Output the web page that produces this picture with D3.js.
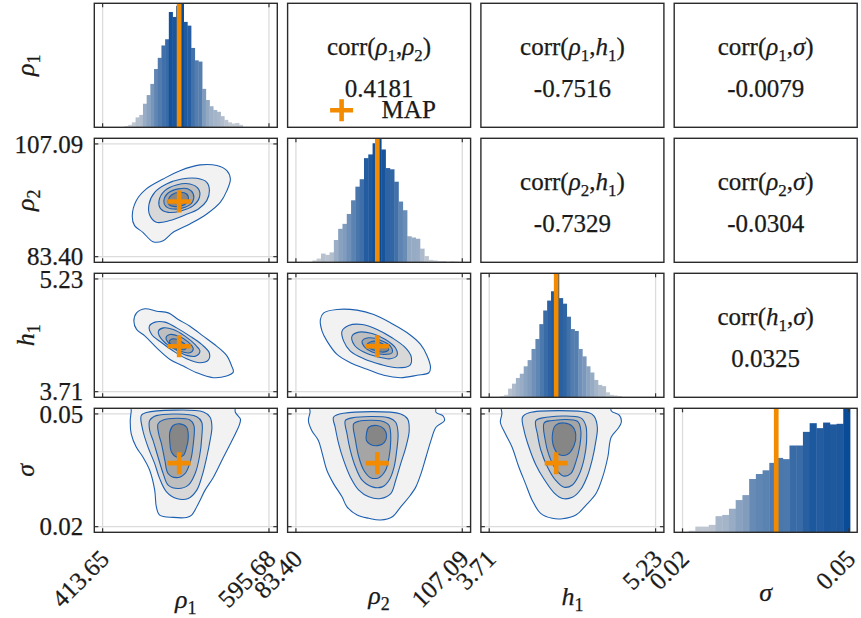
<!DOCTYPE html>
<html>
<head>
<meta charset="utf-8">
<script src="https://cdn.jsdelivr.net/npm/d3@7"></script>
<style>
  body { margin: 0; background: #fff; }
  text { fill: #1a1a1a; stroke: #1a1a1a; stroke-width: 0.25px; }
</style>
</head>
<body>
<div id="chart"></div>
<script>
// parameters: symbol, subscript, plotted bounds and MAP estimate
const paramNames = ['ρ', 'ρ', 'h', 'σ'];
const paramSubs = ['1', '2', '1', ''];
const paramLo = [413.65, 83.40, 3.71, 0.02];
const paramHi = [595.68, 107.09, 5.23, 0.05];
const mapValues = [497.4, 94.99, 4.322, 0.0369];

// marginal histograms: bin range and relative bar heights
const histRange = [[437.6, 566.9], [85.74, 106.57], [3.811, 4.917], [0.0211, 0.0502]];
const histRho1 = [0.01, 0.02, 0.04, 0.08, 0.10, 0.19, 0.26, 0.35, 0.47, 0.56, 0.66, 0.71, 0.93, 0.89, 0.98, 1.0,
  0.85, 0.82, 0.64, 0.54, 0.53, 0.31, 0.22, 0.17, 0.14, 0.125, 0.09, 0.06, 0.04, 0.03, 0.035, 0.02];
const histRho2 = [0.015, 0.03, 0.07, 0.06, 0.08, 0.18, 0.27, 0.31, 0.39, 0.50, 0.61, 0.67, 0.84, 0.87, 0.96, 1.0,
  0.91, 0.76, 0.75, 0.65, 0.49, 0.42, 0.21, 0.20, 0.19, 0.11, 0.05, 0.02, 0.015, 0.01, 0.01, 0.005, 0.008, 0.005];
const histH1 = [0.01, 0.02, 0.07, 0.11, 0.156, 0.19, 0.25, 0.30, 0.39, 0.47, 0.59, 0.70, 0.78, 0.855, 1.0, 0.80,
  0.755, 0.65, 0.55, 0.535, 0.39, 0.33, 0.25, 0.20, 0.14, 0.10, 0.09, 0.04, 0.02, 0.015, 0.01];
const histSigma = [0.013, 0.046, 0.046, 0.06, 0.13, 0.14, 0.19, 0.26, 0.30, 0.43, 0.47, 0.50, 0.56, 0.60, 0.59,
  0.70, 0.70, 0.81, 0.88, 0.84, 0.885, 0.87, 0.875, 1.0];
const histHeights = [histRho1, histRho2, histH1, histSigma];

// pairwise correlations [row param, col param, value]
const corrValues = [[0, 1, 0.4181], [0, 2, -0.7516], [0, 3, -0.0079], [1, 2, -0.7329], [1, 3, -0.0304], [2, 3, 0.0325]];

// 2D density contours, outer to inner, as [x, y] fractions of each parameter's bounds
const contours = {
  '1,0': [
    [[0.178, 0.358], [0.202, 0.497], [0.263, 0.601], [0.364, 0.689], [0.465, 0.763], [0.586, 0.814], [0.687, 0.808], [0.747, 0.763], [0.768, 0.689], [0.747, 0.586], [0.707, 0.482], [0.626, 0.379], [0.525, 0.290], [0.424, 0.216], [0.364, 0.142], [0.303, 0.133], [0.242, 0.216], [0.192, 0.275]],
    [[0.279, 0.467], [0.313, 0.571], [0.384, 0.645], [0.475, 0.689], [0.566, 0.695], [0.626, 0.660], [0.642, 0.586], [0.626, 0.497], [0.576, 0.423], [0.495, 0.370], [0.404, 0.320], [0.323, 0.305], [0.283, 0.370]],
    [[0.339, 0.497], [0.374, 0.586], [0.444, 0.636], [0.525, 0.645], [0.576, 0.601], [0.582, 0.527], [0.545, 0.453], [0.475, 0.408], [0.394, 0.393], [0.347, 0.429]],
    [[0.368, 0.497], [0.394, 0.565], [0.455, 0.601], [0.515, 0.601], [0.545, 0.556], [0.541, 0.488], [0.495, 0.438], [0.424, 0.423], [0.380, 0.447]],
    [[0.394, 0.497], [0.414, 0.547], [0.465, 0.571], [0.505, 0.556], [0.515, 0.506], [0.489, 0.459], [0.434, 0.444], [0.400, 0.459]]
  ],
  '2,0': [
    [[0.188, 0.625], [0.204, 0.699], [0.255, 0.735], [0.325, 0.714], [0.395, 0.699], [0.455, 0.640], [0.525, 0.581], [0.605, 0.493], [0.685, 0.404], [0.745, 0.322], [0.776, 0.227], [0.786, 0.174], [0.745, 0.139], [0.665, 0.124], [0.565, 0.168], [0.485, 0.227], [0.405, 0.286], [0.325, 0.389], [0.255, 0.493], [0.204, 0.552]],
    [[0.281, 0.581], [0.315, 0.617], [0.375, 0.617], [0.445, 0.566], [0.525, 0.493], [0.595, 0.419], [0.641, 0.345], [0.635, 0.280], [0.585, 0.257], [0.505, 0.292], [0.425, 0.360], [0.355, 0.434], [0.295, 0.507]],
    [[0.335, 0.537], [0.365, 0.566], [0.425, 0.552], [0.495, 0.493], [0.555, 0.419], [0.585, 0.360], [0.561, 0.316], [0.505, 0.322], [0.435, 0.375], [0.375, 0.434], [0.341, 0.493]],
    [[0.381, 0.478], [0.405, 0.507], [0.455, 0.493], [0.515, 0.440], [0.545, 0.381], [0.525, 0.345], [0.465, 0.360], [0.415, 0.404]],
    [[0.401, 0.448], [0.425, 0.469], [0.469, 0.448], [0.505, 0.404], [0.495, 0.375], [0.449, 0.383], [0.415, 0.410]]
  ],
  '2,1': [
    [[0.147, 0.640], [0.167, 0.699], [0.247, 0.729], [0.367, 0.723], [0.468, 0.684], [0.568, 0.611], [0.669, 0.522], [0.749, 0.419], [0.789, 0.316], [0.809, 0.212], [0.799, 0.168], [0.729, 0.145], [0.629, 0.124], [0.528, 0.145], [0.428, 0.198], [0.327, 0.257], [0.247, 0.330], [0.187, 0.448], [0.157, 0.537]],
    [[0.277, 0.537], [0.317, 0.587], [0.398, 0.596], [0.488, 0.552], [0.578, 0.478], [0.659, 0.389], [0.693, 0.310], [0.685, 0.233], [0.608, 0.212], [0.508, 0.242], [0.408, 0.292], [0.327, 0.360], [0.287, 0.448]],
    [[0.337, 0.493], [0.378, 0.528], [0.458, 0.516], [0.538, 0.463], [0.598, 0.389], [0.608, 0.322], [0.568, 0.292], [0.488, 0.310], [0.408, 0.351], [0.353, 0.410]],
    [[0.398, 0.448], [0.438, 0.478], [0.508, 0.457], [0.568, 0.404], [0.578, 0.345], [0.528, 0.330], [0.458, 0.351], [0.412, 0.398]],
    [[0.428, 0.419], [0.468, 0.448], [0.528, 0.419], [0.558, 0.375], [0.528, 0.351], [0.468, 0.369], [0.438, 0.389]]
  ],
  '3,0': [
    [[0.172, 1.029], [0.166, 0.941], [0.172, 0.824], [0.202, 0.706], [0.242, 0.618], [0.283, 0.500], [0.313, 0.324], [0.323, 0.176], [0.343, 0.103], [0.424, 0.082], [0.505, 0.082], [0.535, 0.103], [0.576, 0.206], [0.616, 0.324], [0.667, 0.441], [0.727, 0.618], [0.768, 0.735], [0.798, 0.824], [0.824, 0.912], [0.828, 0.956], [0.798, 1.015], [0.79, 1.12], [0.17, 1.12]],
    [[0.232, 0.985], [0.263, 1.012], [0.606, 1.018], [0.646, 0.971], [0.657, 0.882], [0.646, 0.765], [0.626, 0.618], [0.596, 0.441], [0.566, 0.324], [0.515, 0.250], [0.444, 0.250], [0.384, 0.309], [0.343, 0.426], [0.313, 0.559], [0.273, 0.706], [0.242, 0.853]],
    [[0.283, 0.941], [0.323, 0.985], [0.566, 0.976], [0.596, 0.926], [0.596, 0.794], [0.582, 0.618], [0.556, 0.471], [0.515, 0.368], [0.455, 0.338], [0.394, 0.368], [0.364, 0.471], [0.333, 0.618], [0.303, 0.765], [0.283, 0.853]],
    [[0.333, 0.912], [0.364, 0.947], [0.525, 0.947], [0.549, 0.897], [0.545, 0.735], [0.529, 0.588], [0.495, 0.471], [0.444, 0.435], [0.394, 0.471], [0.374, 0.588], [0.354, 0.735], [0.337, 0.824]],
    [[0.404, 0.838], [0.424, 0.897], [0.465, 0.912], [0.505, 0.882], [0.515, 0.794], [0.505, 0.706], [0.485, 0.632], [0.444, 0.618], [0.414, 0.662], [0.404, 0.750]]
  ],
  '3,1': [
    [[0.085, 1.015], [0.075, 0.941], [0.095, 0.853], [0.135, 0.765], [0.156, 0.662], [0.186, 0.500], [0.226, 0.382], [0.277, 0.265], [0.307, 0.176], [0.368, 0.103], [0.438, 0.074], [0.509, 0.059], [0.580, 0.088], [0.630, 0.176], [0.681, 0.265], [0.721, 0.353], [0.752, 0.471], [0.782, 0.618], [0.812, 0.765], [0.842, 0.882], [0.893, 0.941], [0.883, 0.985], [0.842, 1.015], [0.84, 1.12], [0.085, 1.12]],
    [[0.226, 0.971], [0.236, 0.882], [0.257, 0.735], [0.287, 0.588], [0.327, 0.441], [0.378, 0.324], [0.438, 0.265], [0.509, 0.250], [0.570, 0.294], [0.600, 0.412], [0.630, 0.559], [0.661, 0.706], [0.681, 0.853], [0.671, 0.956], [0.630, 1.000], [0.287, 1.006]],
    [[0.297, 0.941], [0.307, 0.824], [0.327, 0.676], [0.358, 0.529], [0.398, 0.412], [0.459, 0.353], [0.519, 0.353], [0.560, 0.412], [0.590, 0.529], [0.606, 0.676], [0.614, 0.824], [0.600, 0.926], [0.560, 0.965], [0.337, 0.965]],
    [[0.347, 0.912], [0.358, 0.765], [0.378, 0.618], [0.408, 0.500], [0.448, 0.435], [0.499, 0.435], [0.539, 0.500], [0.560, 0.618], [0.570, 0.765], [0.560, 0.897], [0.519, 0.935], [0.378, 0.935]],
    [[0.424, 0.824], [0.438, 0.882], [0.489, 0.897], [0.529, 0.868], [0.545, 0.809], [0.533, 0.750], [0.499, 0.721], [0.448, 0.729], [0.424, 0.765]]
  ],
  '3,2': [
    [[0.076, 1.0], [0.067, 0.926], [0.097, 0.824], [0.137, 0.706], [0.178, 0.529], [0.218, 0.382], [0.258, 0.235], [0.309, 0.118], [0.379, 0.074], [0.44, 0.07], [0.521, 0.103], [0.582, 0.191], [0.642, 0.294], [0.682, 0.441], [0.713, 0.618], [0.733, 0.794], [0.773, 0.868], [0.794, 0.926], [0.784, 0.985], [0.733, 1.029], [0.73, 1.12], [0.076, 1.12]],
    [[0.20, 0.97], [0.21, 0.85], [0.24, 0.70], [0.28, 0.55], [0.33, 0.42], [0.39, 0.30], [0.44, 0.25], [0.50, 0.26], [0.55, 0.33], [0.59, 0.45], [0.62, 0.60], [0.64, 0.75], [0.65, 0.88], [0.63, 0.98], [0.60, 1.01], [0.24, 1.01]],
    [[0.28, 0.94], [0.29, 0.82], [0.31, 0.68], [0.35, 0.53], [0.40, 0.41], [0.45, 0.35], [0.50, 0.37], [0.54, 0.46], [0.57, 0.60], [0.585, 0.75], [0.58, 0.90], [0.55, 0.965], [0.32, 0.965]],
    [[0.33, 0.92], [0.335, 0.78], [0.36, 0.63], [0.40, 0.51], [0.445, 0.45], [0.49, 0.47], [0.52, 0.57], [0.545, 0.72], [0.55, 0.86], [0.53, 0.935], [0.37, 0.94]],
    [[0.38, 0.82], [0.40, 0.90], [0.45, 0.92], [0.50, 0.89], [0.52, 0.82], [0.51, 0.72], [0.47, 0.64], [0.42, 0.64], [0.39, 0.70]]
  ]
};

const contourFills = ['#f2f2f2', '#d8d8d8', '#bfbfbf', '#a5a5a5', '#868686'];
const contourStroke = '#1c5fb0';
const orange = '#f28b00';
const serif = 'Liberation Serif, Times New Roman, DejaVu Serif, serif';
const fs = 25;

const width = 861, height = 618;
const svg = d3.select('#chart').append('svg')
  .attr('width', width)
  .attr('height', height)
  .attr('font-family', serif);

const colBand = d3.scaleBand().domain([0, 1, 2, 3]).range([94.3, 857.2]).paddingInner(0.0533);
const rowBand = d3.scaleBand().domain([0, 1, 2, 3]).range([3.3, 532.3]).paddingInner(0.0815);
const pw = colBand.bandwidth(), ph = rowBand.bandwidth();

const toValue = (p, f) => paramLo[p] + f * (paramHi[p] - paramLo[p]);
const fmt = d3.format('.2f');

function paramScale(p, r0, r1) {
  const pad = 0.05 * (paramHi[p] - paramLo[p]);
  return d3.scaleLinear().domain([paramLo[p] - pad, paramHi[p] + pad]).range([r0, r1]);
}

const barColor = t => d3.interpolateRgb('#d2d4d7', '#0a4b98')(Math.pow(t, 0.75));

// writes symbol + subscript into a text element
function mathText(sel, parts, subSize) {
  let shifted = false;
  parts.forEach(pt => {
    const ts = sel.append('tspan').text(pt.t);
    if (pt.it) ts.attr('font-style', 'italic');
    if (pt.sub) {
      ts.attr('font-size', subSize);
      if (!shifted) { ts.attr('dy', 6); shifted = true; }
    } else if (shifted) {
      ts.attr('dy', -6); shifted = false;
    }
  });
}
const symParts = p => {
  const parts = [{ t: paramNames[p], it: true }];
  if (paramSubs[p]) parts.push({ t: paramSubs[p], sub: true });
  return parts;
};

const defs = svg.append('defs');

for (let r = 0; r < 4; r++) {
  for (let c = 0; c < 4; c++) {
    const x0 = colBand(c), y0 = rowBand(r);
    const g = svg.append('g');
    const clipId = `clip-${r}-${c}`;
    defs.append('clipPath').attr('id', clipId)
      .append('rect').attr('x', x0).attr('y', y0).attr('width', pw).attr('height', ph);

    if (c > r) {
      // correlation text
      const corr = corrValues.find(d => d[0] === r && d[1] === c)[2];
      const t1 = g.append('text')
        .attr('x', x0 + pw / 2).attr('y', y0 + 52)
        .attr('text-anchor', 'middle').attr('font-size', fs);
      mathText(t1, [{ t: 'corr(' }, ...symParts(r), { t: ',' }, ...symParts(c), { t: ')' }], 17);
      g.append('text')
        .attr('x', x0 + pw / 2).attr('y', y0 + 94)
        .attr('text-anchor', 'middle').attr('font-size', fs)
        .text(corr.toFixed(4));
    } else {
      const xs = paramScale(c, x0, x0 + pw);
      const xt = [paramLo[c], paramHi[c]];
      const inner = g.append('g').attr('clip-path', `url(#${clipId})`);

      // grid lines
      inner.selectAll('.vgrid').data(xt).enter().append('line')
        .attr('x1', d => xs(d)).attr('x2', d => xs(d))
        .attr('y1', y0).attr('y2', y0 + ph)
        .attr('stroke', '#dcdcdc').attr('stroke-width', 1.3);

      if (r === c) {
        const counts = histHeights[c];
        const [hlo, hhi] = histRange[c];
        const step = (hhi - hlo) / counts.length;
        const ys = d3.scaleLinear().domain([0, d3.max(counts)]).range([y0 + ph, y0]);
        inner.selectAll('.bar').data(counts).enter().append('rect')
          .attr('x', (d, i) => xs(hlo + i * step))
          .attr('width', xs(hlo + step) - xs(hlo) + 0.4)
          .attr('y', d => ys(d))
          .attr('height', d => ys(0) - ys(d))
          .attr('fill', d => barColor(d / d3.max(counts)));
        inner.append('line')
          .attr('x1', xs(mapValues[c])).attr('x2', xs(mapValues[c]))
          .attr('y1', y0).attr('y2', y0 + ph)
          .attr('stroke', orange).attr('stroke-width', 4.7);
      } else {
        const ys = paramScale(r, y0 + ph, y0);
        const yt = [paramLo[r], paramHi[r]];
        inner.selectAll('.hgrid').data(yt).enter().append('line')
          .attr('x1', x0).attr('x2', x0 + pw)
          .attr('y1', d => ys(d)).attr('y2', d => ys(d))
          .attr('stroke', '#dcdcdc').attr('stroke-width', 1.3);

        const line = d3.line()
          .x(d => xs(toValue(c, d[0])))
          .y(d => ys(toValue(r, d[1])))
          .curve(d3.curveCatmullRomClosed.alpha(0.5));
        inner.selectAll('.level').data(contours[`${r},${c}`]).enter().append('path')
          .attr('d', d => line(d))
          .attr('fill', (d, i) => contourFills[i])
          .attr('stroke', contourStroke).attr('stroke-width', 1.1);

        inner.append('path')
          .attr('transform', `translate(${xs(mapValues[c])},${ys(mapValues[r])})`)
          .attr('d', 'M-11.5,0H11.5M0,-11V11')
          .attr('stroke', orange).attr('stroke-width', 4.6);

        // y ticks (inside, both sides)
        yt.forEach(v => {
          g.append('line').attr('x1', x0).attr('x2', x0 + 4).attr('y1', ys(v)).attr('y2', ys(v))
            .attr('stroke', '#333').attr('stroke-width', 1.2);
          g.append('line').attr('x1', x0 + pw - 4).attr('x2', x0 + pw).attr('y1', ys(v)).attr('y2', ys(v))
            .attr('stroke', '#333').attr('stroke-width', 1.2);
        });
        if (c === 0) {
          g.selectAll('.ylab').data(yt).enter().append('text')
            .attr('x', x0 - 11).attr('y', d => ys(d)).attr('dy', '0.35em')
            .attr('text-anchor', 'end').attr('font-size', fs)
            .text(d => fmt(d));
        }
      }

      // x ticks (inside, top and bottom)
      xt.forEach(v => {
        g.append('line').attr('x1', xs(v)).attr('x2', xs(v)).attr('y1', y0).attr('y2', y0 + 4)
          .attr('stroke', '#333').attr('stroke-width', 1.2);
        g.append('line').attr('x1', xs(v)).attr('x2', xs(v)).attr('y1', y0 + ph - 4).attr('y2', y0 + ph)
          .attr('stroke', '#333').attr('stroke-width', 1.2);
      });
      if (r === 3) {
        g.selectAll('.xlab').data(xt).enter().append('text')
          .attr('transform', d => `translate(${xs(d) + 8},${y0 + ph + 28}) rotate(-45)`)
          .attr('text-anchor', 'end').attr('font-size', fs)
          .text(d => fmt(d));
      }
    }

    g.append('rect')
      .attr('x', x0).attr('y', y0).attr('width', pw).attr('height', ph)
      .attr('fill', 'none').attr('stroke', '#2b2b2b').attr('stroke-width', 1.4);
  }
}

// axis titles
const xTitleY = [608, 604, 605, 601];
for (let c = 0; c < 4; c++) {
  const t = svg.append('text')
    .attr('x', colBand(c) + pw / 2).attr('y', xTitleY[c])
    .attr('text-anchor', 'middle').attr('font-size', 26);
  mathText(t, symParts(c), 18);
}
for (let r = 0; r < 4; r++) {
  const t = svg.append('text')
    .attr('transform', `translate(34,${rowBand(r) + ph / 2}) rotate(-90)`)
    .attr('text-anchor', 'middle').attr('font-size', 26);
  mathText(t, symParts(r), 18);
}

// legend
const lx = colBand(1), ly = rowBand(0);
svg.append('path')
  .attr('transform', `translate(${lx + 54},${ly + 107})`)
  .attr('d', 'M-11.5,0H11.5M0,-11V11')
  .attr('stroke', orange).attr('stroke-width', 4.6);
svg.append('text')
  .attr('x', lx + 94).attr('y', ly + 115)
  .attr('font-size', fs)
  .text('MAP');
</script>
</body>
</html>
